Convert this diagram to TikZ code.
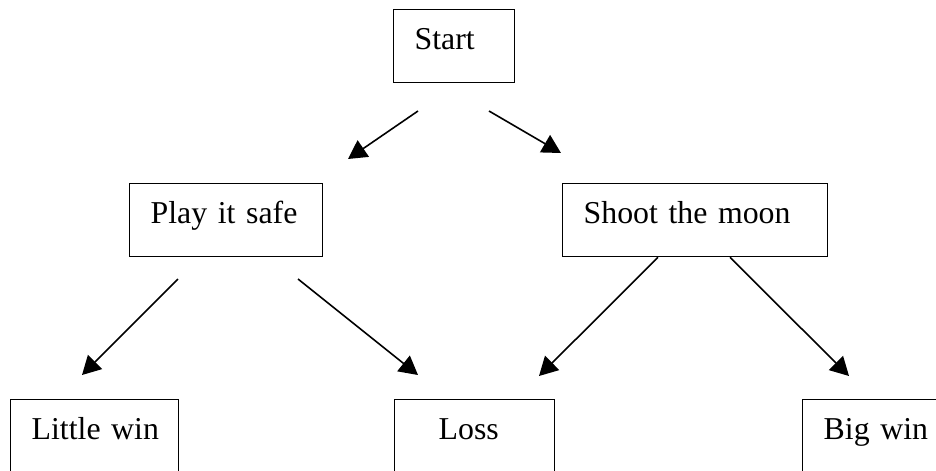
\documentclass[tikz,border=0pt]{standalone}
\usepackage{fontspec}
\setmainfont{Liberation Serif}
\usetikzlibrary{arrows.meta,calc}
\newlength{\pxu}
\setlength{\pxu}{0.377pt}

\begin{document}
\begin{tikzpicture}[x=0.377pt,y=-0.377pt,
	box/.style={draw,line width=0.5pt,anchor=north west,align=left,inner xsep=21\pxu,inner ysep=0pt,text height=40\pxu,text depth=33\pxu,font=\fontsize{12}{14}\selectfont},
	arr/.style={-{Triangle[length=7pt,width=7.5pt]},line width=0.6pt}]
		\path[use as bounding box,clip] (0,0) rectangle (936,470);
		% boxes
		\node[box,text width=79\pxu] (start) at (393,9) {Start};
		\node[box,text width=151\pxu] (safe) at (129,183) {Play~it~safe};
		\node[box,text width=223\pxu] (moon) at (562,183) {Shoot~the~moon};
		\node[box,text width=126\pxu] (little) at (10,399) {Little~win};
		\node[box,text width=118\pxu] (loss) at (394,399) {\hspace*{23\pxu}Loss};
		\node[box,text width=108\pxu] (big) at (802,399) {Big~win};
		% free arrow ends
		\coordinate (startL) at (418,111);
		\coordinate (startR) at (489,111);
		\coordinate (safeTip) at (348,159);
		\coordinate (moonTip) at (561,153);
		\coordinate (safeL) at (178,279);
		\coordinate (safeR) at (298,279);
		\coordinate (littleTip) at (82,375);
		\coordinate (lossTipL) at (418,375);
		\coordinate (lossTipR) at (539,376);
		\coordinate (bigTip) at (849,376);
		\draw[arr] (startL) -- (safeTip);
		\draw[arr] (startR) -- (moonTip);
		\draw[arr] (safeL) -- (littleTip);
		\draw[arr] (safeR) -- (lossTipL);
		\draw[arr] ($(moon.south west)+(96,0)$) -- (lossTipR);
		\draw[arr] ($(moon.south west)+(168,0)$) -- (bigTip);
\end{tikzpicture}
\end{document}
